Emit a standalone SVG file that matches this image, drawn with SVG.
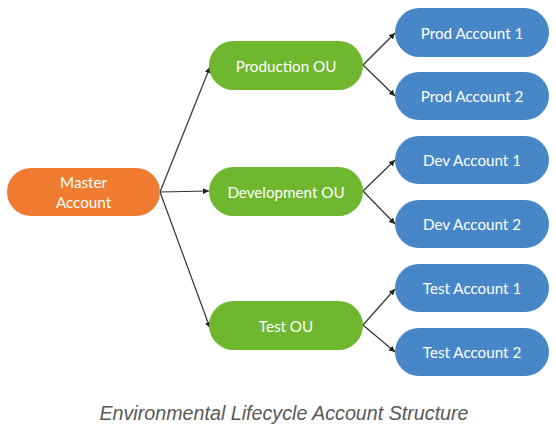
<svg xmlns="http://www.w3.org/2000/svg" width="556" height="432" viewBox="0 0 556 432">
<style>
.lbl{font-family:Lato,"Open Sans",sans-serif;font-size:15.2px;fill:#fff;text-anchor:middle;dominant-baseline:central}
.c{stroke:#333;stroke-width:1.2;fill:none;marker-end:url(#a)}
.o{fill:#F07C31}.g{fill:#6FB72E}.b{fill:#4787C7}
</style>
<defs>
<marker id="a" viewBox="0 0 10 10" refX="10" refY="5" markerWidth="6" markerHeight="6" orient="auto" markerUnits="userSpaceOnUse"><path d="M0,0L10,5L0,10z" fill="#222"/></marker>
</defs>
<rect width="556" height="432" fill="#fff"/>
<g id="connectors">
<line class="c" x1="160" y1="192" x2="210" y2="67"/>
<line class="c" x1="160" y1="192" x2="209" y2="191"/>
<line class="c" x1="160" y1="192" x2="210" y2="328"/>
<line class="c" x1="363" y1="65" x2="395" y2="33"/>
<line class="c" x1="363" y1="65" x2="395" y2="96"/>
<line class="c" x1="363" y1="191" x2="395" y2="160"/>
<line class="c" x1="363" y1="191" x2="395" y2="224"/>
<line class="c" x1="363" y1="325" x2="395" y2="289"/>
<line class="c" x1="363" y1="325" x2="395" y2="352"/>
</g>
<g id="master"><rect class="o" x="7" y="168" width="153" height="48" rx="24"/><text class="lbl" x="83.5" y="182">Master</text><text class="lbl" x="83.5" y="202">Account</text></g>
<g id="prod-ou"><rect class="g" x="209" y="41" width="154" height="49" rx="24.5"/><text class="lbl" x="286" y="65.5">Production OU</text></g>
<g id="dev-ou"><rect class="g" x="209" y="167" width="154" height="49" rx="24.5"/><text class="lbl" x="286" y="191.5">Development OU</text></g>
<g id="test-ou"><rect class="g" x="209" y="301" width="154" height="49" rx="24.5"/><text class="lbl" x="286" y="325.5">Test OU</text></g>
<g id="prod1"><rect class="b" x="395" y="8" width="154" height="49" rx="24.5"/><text class="lbl" x="472" y="32.5">Prod Account 1</text></g>
<g id="prod2"><rect class="b" x="395" y="72" width="154" height="48" rx="24"/><text class="lbl" x="472" y="96">Prod Account 2</text></g>
<g id="dev1"><rect class="b" x="395" y="136" width="154" height="48" rx="24"/><text class="lbl" x="472" y="160">Dev Account 1</text></g>
<g id="dev2"><rect class="b" x="395" y="200" width="154" height="48" rx="24"/><text class="lbl" x="472" y="224">Dev Account 2</text></g>
<g id="test1"><rect class="b" x="395" y="264" width="154" height="48" rx="24"/><text class="lbl" x="472" y="288">Test Account 1</text></g>
<g id="test2"><rect class="b" x="395" y="328" width="154" height="48" rx="24"/><text class="lbl" x="472" y="352">Test Account 2</text></g>
<text x="284" y="420" font-family="'Liberation Sans',Arial,sans-serif" font-style="italic" font-size="19.7" fill="#595959" text-anchor="middle">Environmental Lifecycle Account Structure</text>
</svg>
